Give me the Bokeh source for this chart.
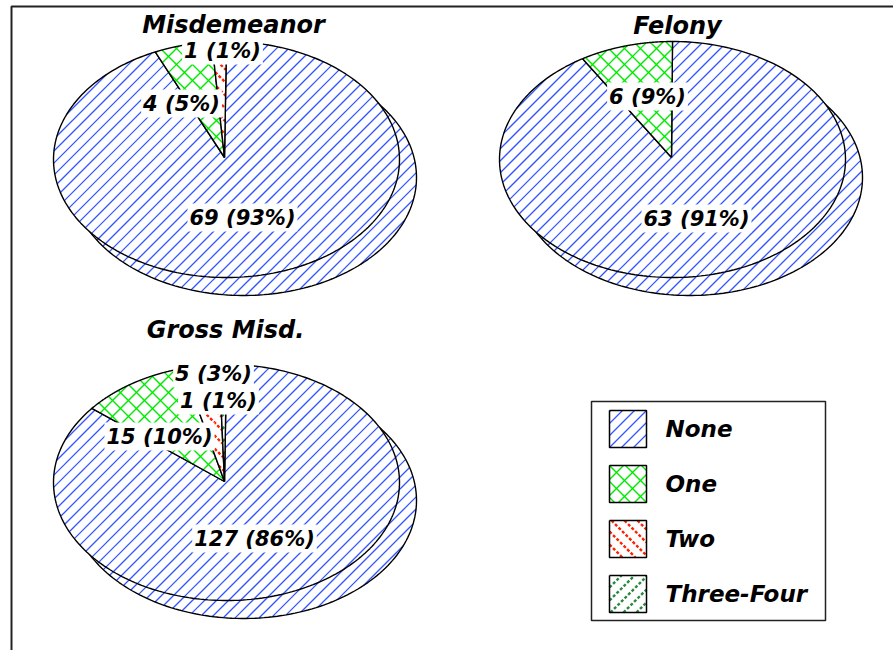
import numpy as np
from bokeh.plotting import figure
from bokeh.embed import file_html
from bokeh.resources import INLINE
from bokeh.core.properties import value

# --- data ---
categories = ["None", "One", "Two", "Three-Four"]
misdemeanor = [69, 4, 1, 0]
felony = [63, 6, 0, 0]
gross_misd = [127, 15, 5, 1]
panel_titles = ["Misdemeanor", "Felony", "Gross Misd."]
misd_labels = ["69 (93%)", "4 (5%)", "1 (1%)"]
felony_labels = ["63 (91%)", "6 (9%)"]
gross_labels = ["127 (86%)", "15 (10%)", "5 (3%)", "1 (1%)"]

# --- styles / layout (reference pixel space) ---
hatch_colors = ["#3355ff", "#00ea00", "#ff2200", "#2a8a40"]
# (direction, spacing along x, line width, dash)
hatch_styles = [
    [(1, 12, 1.3, "solid")],
    [(1, 16, 1.4, "solid"), (-1, 16, 1.4, "solid")],
    [(-1, 13, 2.4, "3 2")],
    [(1, 13, 2.4, "3 2")],
]
RX, RY = 173, 118
DX, DY = 17, 18
FONT = value("DejaVu Sans")

p = figure(width=893, height=650, x_range=(0, 893), y_range=(650, 0),
           output_backend="svg", toolbar_location=None, min_border=0,
           outline_line_color=None)
p.axis.visible = False
p.grid.visible = False


def hatch_segments(xs, ys, direction, spacing):
    """Parallel 45-degree lines clipped to a polygon (even-odd)."""
    xs, ys = np.asarray(xs, float), np.asarray(ys, float)
    u = xs + direction * ys
    out_x, out_y = [], []
    k0 = np.ceil(u.min() / spacing) * spacing
    for k in np.arange(k0, u.max(), spacing):
        hits = []
        for j in range(len(xs) - 1):
            a, b = u[j] - k, u[j + 1] - k
            if (a < 0) != (b < 0):
                t = a / (a - b)
                hits.append((xs[j] + t * (xs[j + 1] - xs[j]), ys[j] + t * (ys[j + 1] - ys[j])))
        hits.sort()
        for h0, h1 in zip(hits[0::2], hits[1::2]):
            out_x.append([h0[0], h1[0]])
            out_y.append([h0[1], h1[1]])
    return out_x, out_y


def hatched(xs, ys, i, lw=1.4):
    p.patch(xs, ys, fill_color="white", line_color=None)
    for direction, spacing, width, dash in hatch_styles[i]:
        sx, sy = hatch_segments(xs, ys, direction, spacing)
        p.multi_line(sx, sy, line_color=hatch_colors[i], line_width=width, line_dash=dash)
    p.line(xs, ys, line_color="black", line_width=lw)


def ellipse_pts(cx, cy, a0, a1, n=240):
    t = np.linspace(a0, a1, n)
    return cx + RX * np.sin(t), cy - RY * np.cos(t)


def pie(cx, cy, ax, ay, values):
    xs, ys = ellipse_pts(cx + DX, cy + DY, 0, 2 * np.pi)
    hatched(xs, ys, 0)
    total = sum(values)
    start = 0.0
    for i, v in enumerate(values):
        if v == 0:
            continue
        end = start + 2 * np.pi * v / total
        xs, ys = ellipse_pts(cx, cy, start, end)
        hatched(np.r_[ax, xs, ax], np.r_[ay, ys, ay], i)
        start = end


pie(226, 159, 224, 157, misdemeanor)
pie(672, 159, 671, 157, felony)
pie(226, 482, 224, 481, gross_misd)


def label(x, y, t, size="21px", bg=True):
    kw = dict(background_fill_color="white", padding=2) if bg else {}
    p.text([x], [y], text=[t], text_font=FONT, text_font_style="bold italic",
           text_font_size=size, text_align="center", text_baseline="middle",
           text_color="black", **kw)


label(233, 24, panel_titles[0], "24px", False)
label(677, 25, panel_titles[1], "24px", False)
label(225, 329, panel_titles[2], "24px", False)

for (x, y), t in zip([(242, 217), (181, 103), (222, 50)], misd_labels):
    label(x, y, t)
for (x, y), t in zip([(696, 218), (647, 96)], felony_labels):
    label(x, y, t)
for (x, y), t in zip([(254, 538), (159, 436), (213, 373), (218, 400)], gross_labels):
    label(x, y, t)

# frame
p.line([11, 11, 893], [650, 6, 6], line_color="#222222", line_width=2)

# legend
p.quad(left=[591], right=[825], top=[401], bottom=[620], fill_color="white",
       line_color="#222222", line_width=1.5)
sw_y = [429, 484, 539, 594]
for i, (c, y) in enumerate(zip(categories, sw_y)):
    hatched(np.array([609, 646, 646, 609, 609.0]),
            np.array([y - 19, y - 19, y + 18, y + 18, y - 19.0]), i, 1.5)
    p.text([665], [y - 1], text=[c], text_font=FONT, text_font_style="bold italic",
           text_font_size="23px", text_align="left", text_baseline="middle", text_color="black")

open("out.html", "w").write(file_html(p, INLINE))
